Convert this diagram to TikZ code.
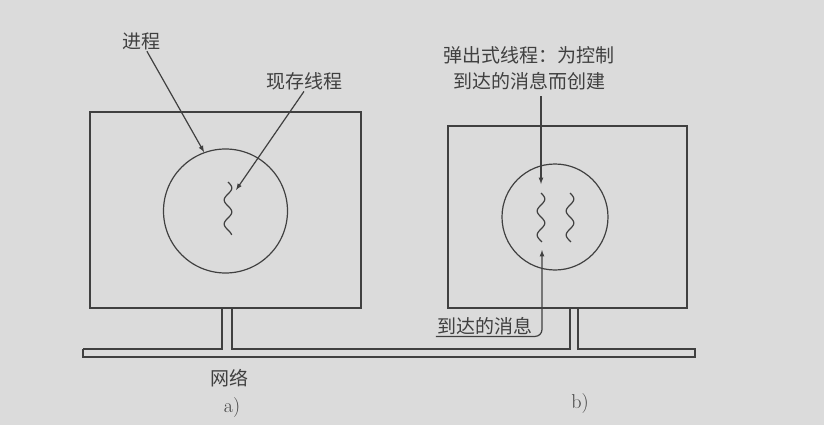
\documentclass[tikz,border=0pt]{standalone}
\usepackage{fontspec}
\newfontfamily\cjk{Noto Sans CJK SC}
\usetikzlibrary{calc}

\begin{document}
\begin{tikzpicture}[x=1pt,y=-1pt,>=latex,line width=1.2pt,color=black!75,
        lbl/.style={font=\cjk\fontsize{19}{26}\selectfont,inner sep=1pt},
        subcap/.style={font=\fontsize{20}{24}\selectfont},
        host/.style={draw,rectangle,inner sep=0pt},
        proc/.style={draw,circle,inner sep=0pt}]
        % paper
        \fill[black!14] (0,0) rectangle (824,425);
        \useasboundingbox (0,0) rectangle (824,425);

        % the two hosts and their processes
        \node[host,minimum width=271pt,minimum height=196pt] (hostA) at (225.5,210) {};
        \node[host,minimum width=239pt,minimum height=182pt] (hostB) at (567.5,217) {};
        \node[proc,minimum size=124pt] (procA) at (225.5,211) {};
        \node[proc,minimum size=106pt] (procB) at (555,217) {};

        % threads
        \draw plot[domain=0:53,samples=50,smooth] ({228+3.8*sin(\x*15)},{182+\x});
        \foreach \tx in {541,570}
                \draw plot[domain=0:49,samples=50,smooth] ({\tx+3.8*sin(\x*15)},{193+\x});

        % the network
        \draw (83,349) -- (222,349) -- (222,308)
              (232,308) -- (232,349) -- (570,349) -- (570,308)
              (578,308) -- (578,349) -- (695,349) -- (695,357) -- (83,357) -- (83,349);

        % labels
        \node[lbl] (procT) at (141,41) {进程};
        \node[lbl] (liveT) at (304,81) {现存线程};
        \node[lbl,align=center] (popT) at (529,68) {弹出式线程：为控制\\到达的消息而创建};
        \node[lbl] (msgT) at (485,326) {到达的消息};
        \node[lbl] (netT) at (229,378) {网络};
        \node[subcap] (capA) at (232,408) {a)};
        \node[subcap] (capB) at (580,404) {b)};

        % arrows
        \coordinate (sqA) at (236,190);
        \coordinate (inB) at (541,184);
        \coordinate (upB) at (542,250);
        \draw[->] (procT.-60) -- (procA.110);
        \draw[->] (liveT.south) -- (sqA);
        \draw[->,shorten <=5pt] (popT.south -| inB) -- (inB);
        \draw[->,rounded corners=7pt] (msgT.south west) -- (msgT.south west -| upB) -- (upB);
\end{tikzpicture}
\end{document}
